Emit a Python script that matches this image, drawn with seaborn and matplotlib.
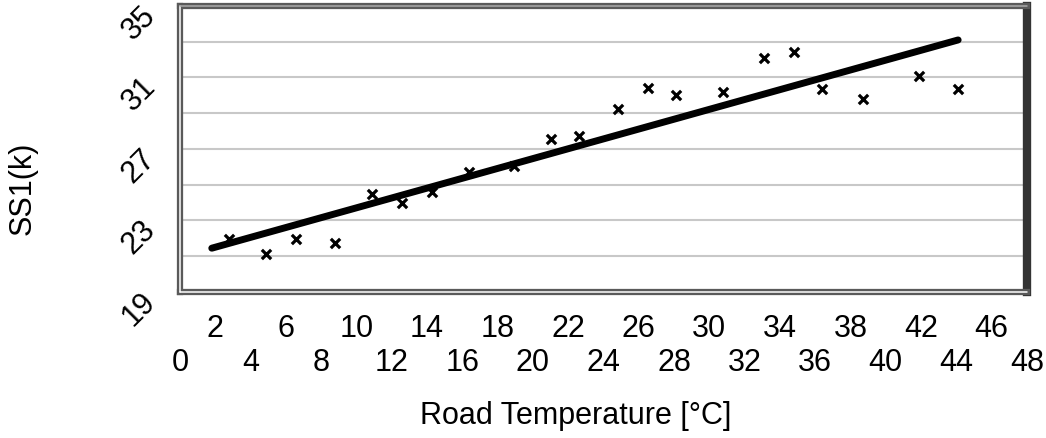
import seaborn as sns
import matplotlib.pyplot as plt
import matplotlib.transforms as mtransforms
from matplotlib.ticker import MultipleLocator

# measured points: road temperature [°C] vs SS1(k)
road_temp = [2.8, 4.9, 6.6, 8.8, 10.9, 12.6, 14.3, 16.4, 18.9, 21.0, 22.6,
             24.8, 26.5, 28.1, 30.8, 33.1, 34.8, 36.4, 38.7, 41.9, 44.1]
ss1 = [21.97, 21.13, 21.97, 21.75, 24.48, 24.0, 24.6, 25.71, 26.05, 27.56, 27.73,
       29.24, 30.41, 30.02, 30.19, 32.07, 32.41, 30.33, 29.8, 31.1, 30.36]

# linear trend line (end points)
trend_x = [1.8, 44.1]
trend_y = [21.45, 33.1]

x_ticks = list(range(0, 49, 2))
x_labels = [("\n%d" % v) if v % 4 == 0 else ("%d" % v) for v in x_ticks]
y_ticks = list(range(19, 36, 2))
y_labels = ["19", "", "23", "", "27", "", "31", "", "35"]

sns.set_style("white")
plt.rcParams['font.family'] = ['Liberation Sans', 'DejaVu Sans']
plt.rcParams['text.color'] = 'black'
plt.rcParams['axes.labelcolor'] = 'black'

fig = plt.figure(figsize=(10.46, 4.39), dpi=100)
ax = fig.add_axes([0.1721, 0.3326, 0.8097, 0.6515])

sns.scatterplot(x=road_temp, y=ss1, marker='x', s=45, color='black',
                linewidth=2.3, ax=ax, zorder=3)
sns.lineplot(x=trend_x, y=trend_y, color='black', lw=5, ax=ax, zorder=4)

ax.set_xlim(0, 48)
ax.set_ylim(19, 35)
ax.set_xticks(x_ticks)
ax.set_xticklabels(x_labels, fontsize=22)
ax.set_yticks(y_ticks)
ax.set_yticklabels(y_labels, fontsize=22, rotation=45, ha='right', va='center',
                   rotation_mode='anchor')
ax.xaxis.set_minor_locator(MultipleLocator(1))
ax.yaxis.set_minor_locator(MultipleLocator(1))
ax.tick_params(which='both', direction='inout', length=14, width=1.3,
               color='#b4b4b4', labelcolor='black')
ax.tick_params(axis='y', pad=14)
ax.tick_params(axis='x', pad=8)
ax.grid(axis='y', color='#c8c8c8', lw=1.5)
ax.set_axisbelow(True)

# nudge rotated y labels down a little
shift = mtransforms.ScaledTranslation(0, -0.04, fig.dpi_scale_trans)
for lbl in ax.get_yticklabels():
    lbl.set_transform(lbl.get_transform() + shift)

# excel style frame
for side in ['left', 'bottom', 'top']:
    ax.spines[side].set_color('#5a5a5a')
    ax.spines[side].set_linewidth(4.5)
ax.spines['right'].set_color('#333333')
ax.spines['right'].set_linewidth(6)
ax.axvline(0, color='white', lw=1.1, zorder=2.6, clip_on=False)
ax.axhline(19, color='white', lw=1.1, zorder=2.6, clip_on=False)
ax.axhline(35, color='#aaaaaa', lw=1.1, zorder=2.6, clip_on=False)

ax.set_xlabel('Road Temperature [°C]', fontsize=22, va='baseline')
ax.xaxis.set_label_coords(0.4675, -0.458)
ax.set_ylabel('SS1(k)', fontsize=22, va='center')
ax.yaxis.set_label_coords(-0.186, 0.367)

fig.savefig('out.png', dpi=100)
